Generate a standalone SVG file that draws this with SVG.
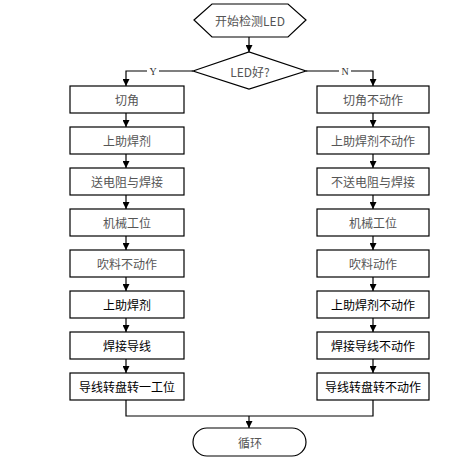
<svg xmlns="http://www.w3.org/2000/svg" width="464" height="470" viewBox="0 0 464 470">
<defs>
<marker id="ah" viewBox="0 0 10 10" refX="10" refY="5" markerWidth="7" markerHeight="7" markerUnits="userSpaceOnUse" orient="auto">
<path d="M0,0 L10,5 L0,10 z" fill="#000"/>
</marker>
<style>
.s{fill:#fff;stroke:#000;stroke-width:1.2}
.t{font-family:"Noto Sans CJK SC","Noto Sans",sans-serif;font-size:12px;text-anchor:middle;dominant-baseline:central;fill:#555}
.d{fill:#000}
.c{fill:none;stroke:#000;stroke-width:1.2}
.l{font-family:"Liberation Serif",serif;font-size:10px;text-anchor:middle;dominant-baseline:central;fill:#333}
</style>
</defs>
<rect width="464" height="470" fill="#fff"/>
<g id="connectors">
<line class="c" x1="249" y1="37" x2="249" y2="52" marker-end="url(#ah)"/>
<polyline class="c" points="193,71 126,71 126,86" marker-end="url(#ah)"/>
<polyline class="c" points="306,71 373,71 373,86" marker-end="url(#ah)"/>
<line class="c" x1="126" y1="113" x2="126" y2="127" marker-end="url(#ah)"/>
<line class="c" x1="126" y1="154" x2="126" y2="168" marker-end="url(#ah)"/>
<line class="c" x1="126" y1="195" x2="126" y2="209" marker-end="url(#ah)"/>
<line class="c" x1="126" y1="236" x2="126" y2="250" marker-end="url(#ah)"/>
<line class="c" x1="126" y1="277" x2="126" y2="291" marker-end="url(#ah)"/>
<line class="c" x1="126" y1="318" x2="126" y2="332" marker-end="url(#ah)"/>
<line class="c" x1="126" y1="359" x2="126" y2="373" marker-end="url(#ah)"/>
<line class="c" x1="373" y1="113" x2="373" y2="127" marker-end="url(#ah)"/>
<line class="c" x1="373" y1="154" x2="373" y2="168" marker-end="url(#ah)"/>
<line class="c" x1="373" y1="195" x2="373" y2="209" marker-end="url(#ah)"/>
<line class="c" x1="373" y1="236" x2="373" y2="250" marker-end="url(#ah)"/>
<line class="c" x1="373" y1="277" x2="373" y2="291" marker-end="url(#ah)"/>
<line class="c" x1="373" y1="318" x2="373" y2="332" marker-end="url(#ah)"/>
<line class="c" x1="373" y1="359" x2="373" y2="373" marker-end="url(#ah)"/>
<polyline class="c" points="126,400 126,416 373,416 373,400"/>
<line class="c" x1="249" y1="416" x2="249" y2="428" marker-end="url(#ah)"/>
<rect x="147" y="65" width="12" height="12" fill="#fff"/>
<text class="l" x="153" y="71">Y</text>
<rect x="339" y="65" width="12" height="12" fill="#fff"/>
<text class="l" x="345" y="71">N</text>
</g>
<g id="start"><polygon class="s" points="194,20 212,4 288,4 306,20 288,37 212,37"/><text class="t" x="250" y="20">开始检测LED</text></g>
<g id="decision"><polygon class="s" points="193,71 249,52 306,71 249,89"/><text class="t" x="250" y="71">LED好?</text></g>
<g id="L1"><rect class="s" x="70" y="86" width="114" height="27"/><text class="t" x="127" y="99.5">切角</text></g>
<g id="L2"><rect class="s" x="70" y="127" width="114" height="27"/><text class="t" x="127" y="140.5">上助焊剂</text></g>
<g id="L3"><rect class="s" x="70" y="168" width="114" height="27"/><text class="t" x="127" y="181.5">送电阻与焊接</text></g>
<g id="L4"><rect class="s" x="70" y="209" width="114" height="27"/><text class="t" x="127" y="222.5">机械工位</text></g>
<g id="L5"><rect class="s" x="70" y="250" width="114" height="27"/><text class="t" x="127" y="263.5">吹料不动作</text></g>
<g id="L6"><rect class="s" x="70" y="291" width="114" height="27"/><text class="t d" x="127" y="304.5">上助焊剂</text></g>
<g id="L7"><rect class="s" x="70" y="332" width="114" height="27"/><text class="t d" x="127" y="345.5">焊接导线</text></g>
<g id="L8"><rect class="s" x="70" y="373" width="114" height="27"/><text class="t d" x="127" y="386.5">导线转盘转一工位</text></g>
<g id="R1"><rect class="s" x="317" y="86" width="112" height="27"/><text class="t" x="373" y="99.5">切角不动作</text></g>
<g id="R2"><rect class="s" x="317" y="127" width="112" height="27"/><text class="t" x="373" y="140.5">上助焊剂不动作</text></g>
<g id="R3"><rect class="s" x="317" y="168" width="112" height="27"/><text class="t" x="373" y="181.5">不送电阻与焊接</text></g>
<g id="R4"><rect class="s" x="317" y="209" width="112" height="27"/><text class="t" x="373" y="222.5">机械工位</text></g>
<g id="R5"><rect class="s" x="317" y="250" width="112" height="27"/><text class="t" x="373" y="263.5">吹料动作</text></g>
<g id="R6"><rect class="s" x="317" y="291" width="112" height="27"/><text class="t d" x="373" y="304.5">上助焊剂不动作</text></g>
<g id="R7"><rect class="s" x="317" y="332" width="112" height="27"/><text class="t d" x="373" y="345.5">焊接导线不动作</text></g>
<g id="R8"><rect class="s" x="317" y="373" width="112" height="27"/><text class="t d" x="373" y="386.5">导线转盘转不动作</text></g>
<g id="end"><rect class="s" x="193" y="428" width="113" height="28" rx="14" ry="14"/><text class="t" x="250" y="442">循环</text></g>
</svg>
